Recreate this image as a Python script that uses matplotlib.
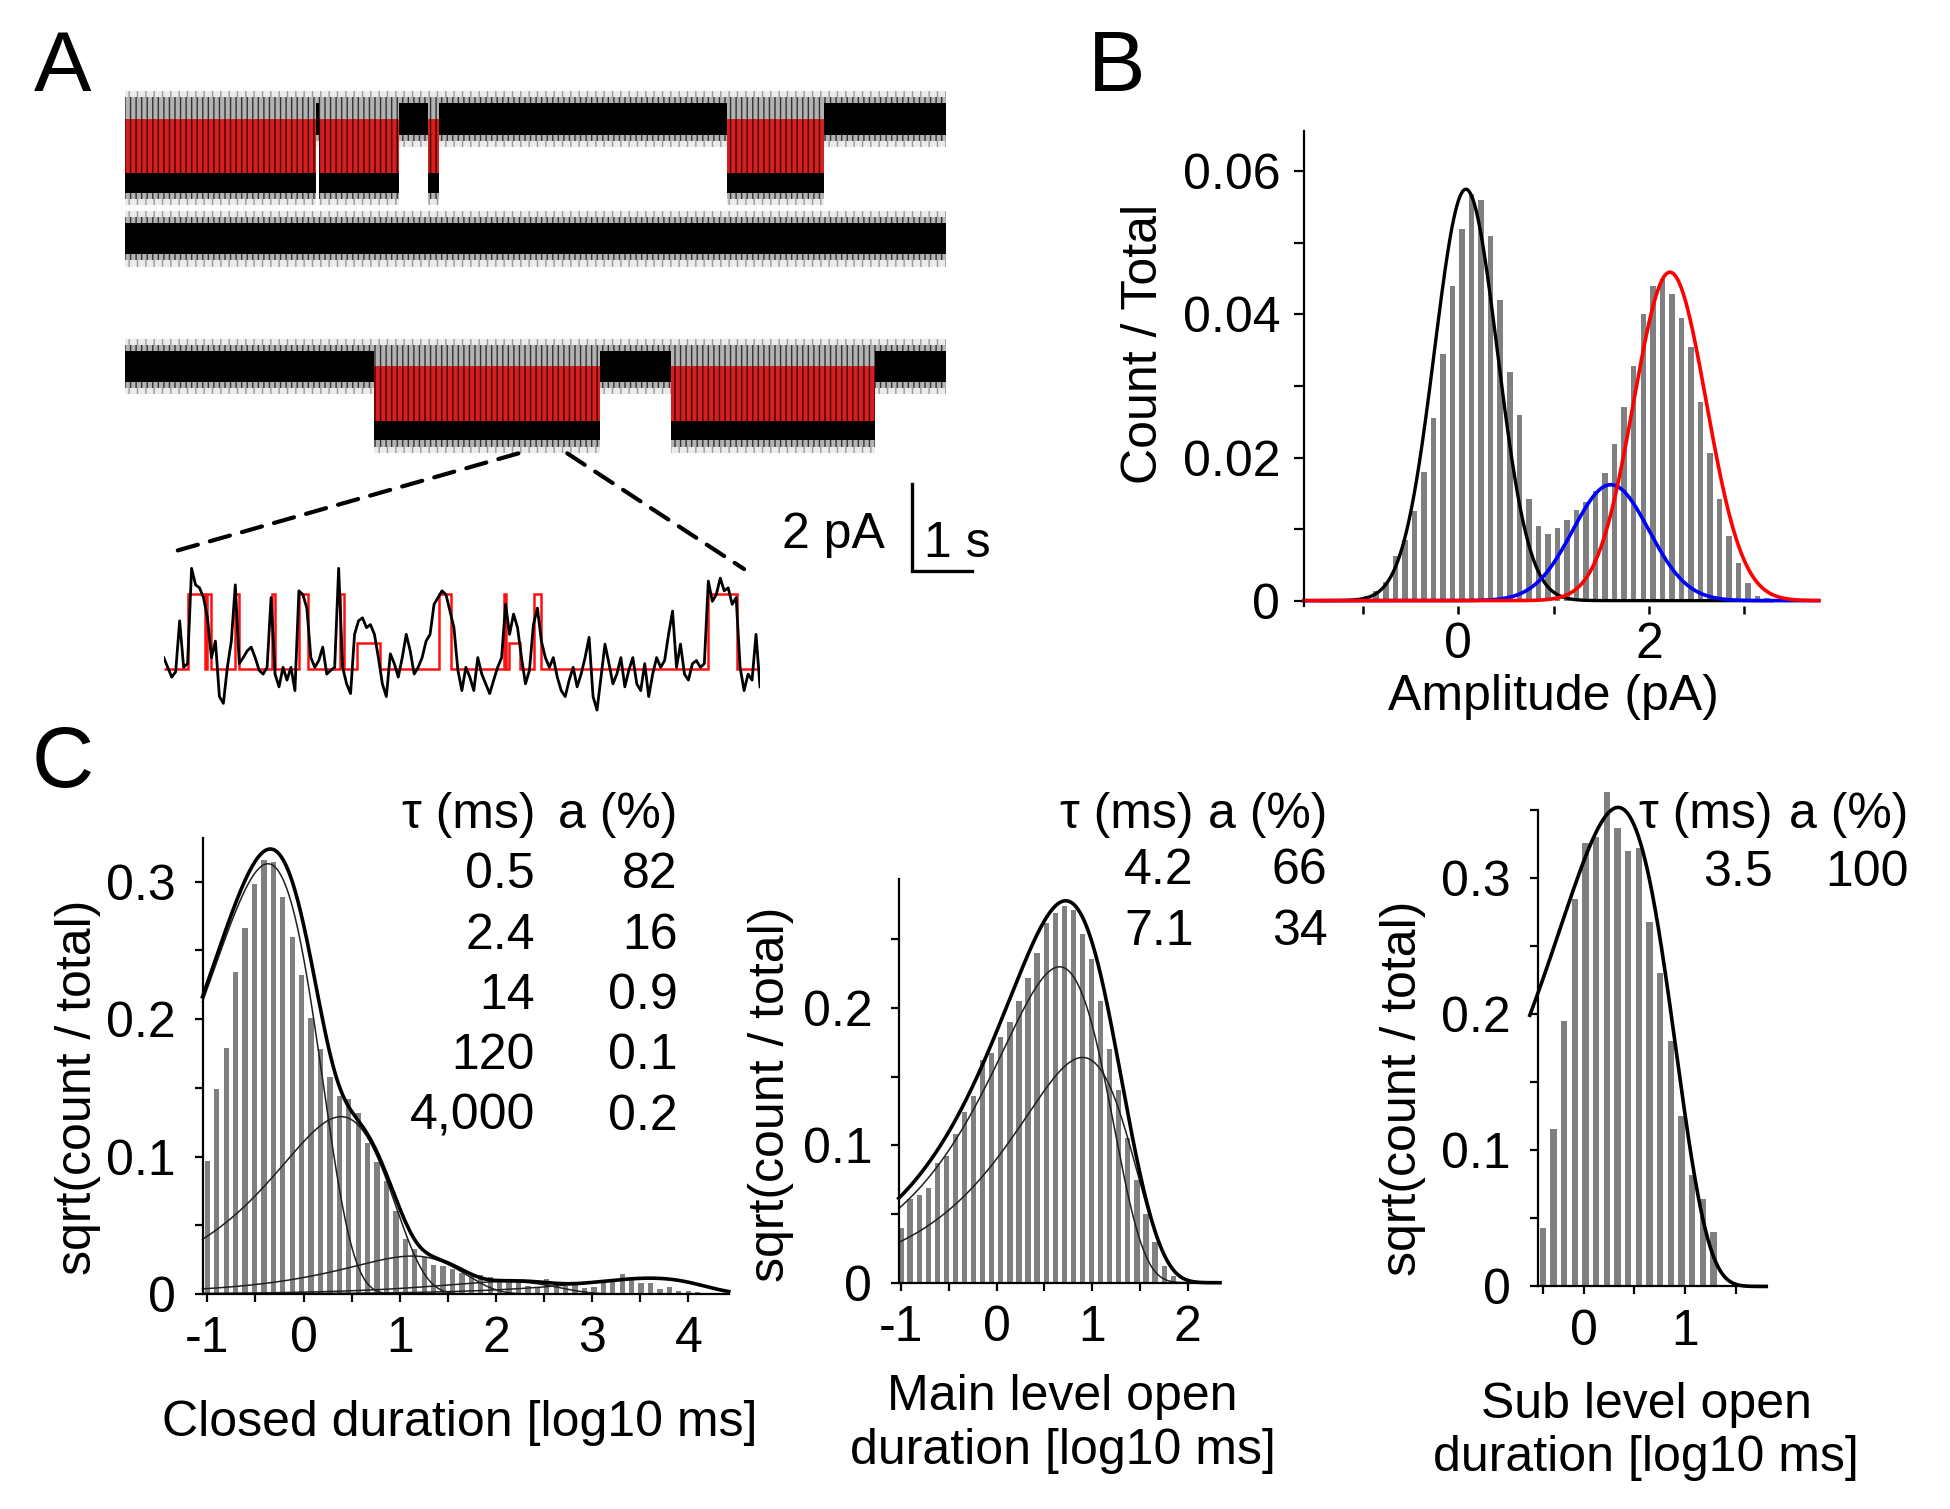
import numpy as np
import matplotlib.pyplot as plt
from matplotlib.patches import ConnectionPatch

plt.rcParams['font.family'] = ['Liberation Sans', 'DejaVu Sans']
plt.rcParams['axes.unicode_minus'] = False
plt.rcParams['hatch.linewidth'] = 1.0

# ---------------- A: idealised single-channel sweeps (start s, end s, state)
sweep1 = [(0.0, 3.20, 'open'), (3.20, 3.25, 'closed'), (3.25, 4.60, 'open'),
          (4.60, 5.08, 'closed'), (5.08, 5.27, 'open'), (5.27, 10.10, 'closed'),
          (10.10, 11.73, 'open'), (11.73, 13.77, 'closed')]
sweep2 = [(0.0, 13.77, 'closed')]
sweep3 = [(0.0, 4.17, 'closed'), (4.17, 7.97, 'open'), (7.97, 9.16, 'closed'),
          (9.16, 12.58, 'open'), (12.58, 13.77, 'closed')]
open_current = 1.25     # pA
scale_pA = 2
scale_s = 1
zoom_from_s = (6.60, 7.42)

# expanded stretch (ms), current as fraction of the full opening
inset_dt = 5
inset_trace = [0.15, 0.02, -0.11, -0.04, 0.64, 0.02, 0.07, 1.34, 1.12, 1.08,
               0.95, 0.68, 0.15, 0.37, -0.37, -0.46, 0.02, 0.37, 1.12, 0.07,
               0.15, 0.24, 0.29, 0.15, -0.02, -0.07, 0.02, 0.95, -0.07, -0.24,
               0.02, -0.15, 0.02, -0.29, 1.04, 0.99, 0.81, 0.15, 0.02, 0.11,
               0.29, -0.07, -0.02, 0.02, 1.34, 0.02, -0.20, -0.33, 0.46, 0.64,
               0.68, 0.55, 0.59, 0.46, 0.15, -0.20, -0.37, 0.20, 0.07, -0.11,
               0.15, 0.46, 0.24, -0.07, 0.02, 0.15, 0.37, 0.46, 0.86, 0.95,
               1.04, 0.99, 0.77, 0.55, -0.02, -0.29, 0.02, -0.11, -0.29, 0.15,
               -0.07, -0.20, -0.33, -0.15, 0.02, 0.15, 0.86, 0.46, 0.73, 0.55,
               0.15, -0.20, -0.02, 0.59, 0.81, 0.37, 0.15, 0.02, 0.15, -0.11,
               -0.29, -0.37, -0.15, 0.02, -0.24, -0.07, 0.15, 0.42, -0.37, -0.55,
               -0.11, 0.33, 0.07, -0.20, -0.07, 0.15, -0.24, -0.02, 0.15, -0.20,
               -0.29, 0.07, -0.37, -0.07, 0.15, 0.02, 0.11, 0.46, 0.77, 0.02,
               0.33, -0.07, -0.15, 0.07, 0.11, 0.02, 0.07, 1.17, 0.90, 0.99,
               1.21, 1.04, 1.08, 0.86, 0.95, 0.02, -0.29, -0.07, -0.15, 0.46,
               -0.24]
idl_edges = [0, 31, 51.5, 55, 60, 90, 95, 136.5, 140.5, 170, 181.5, 221.5, 226.5,
             243.5, 271.5, 346.5, 361, 427.5, 430, 434, 448.5, 466, 475, 685, 721.5, 750]
idl_levels = [0, 1, 0, 1, 0, 1, 0, 1, 0, 1, 0, 1, 0, 0.35, 0, 1, 0, 1, 0, 0.35,
              0, 1, 0, 1, 0]

# ---------------- B: amplitude histogram
amp_first_bin = -1.16
amp_bin = 0.1
amp_frac = [0.0001, 0.0003, 0.0006, 0.0013, 0.0026, 0.0062, 0.0085, 0.0125, 0.0180,
            0.0255, 0.0345, 0.0440, 0.0520, 0.0568, 0.0560, 0.0510, 0.0420, 0.0320,
            0.0260, 0.0142, 0.0105, 0.0093, 0.0101, 0.0113, 0.0126, 0.0138, 0.0153,
            0.0179, 0.0219, 0.0270, 0.0328, 0.0400, 0.0440, 0.0449, 0.0429, 0.0395,
            0.0355, 0.0278, 0.0207, 0.0142, 0.0090, 0.0052, 0.0025, 0.0007, 0.0004]
# fitted gaussians: mean, sd, height
gauss_closed = (0.08, 0.33, 0.0575)
gauss_sub = (1.60, 0.40, 0.0162)
gauss_main = (2.22, 0.38, 0.0459)

# ---------------- C: dwell-time histograms (log10 ms bins, sqrt scale)
closed_first_bin, closed_bin = -1.0, 0.098
closed_sqrt = [0.097, 0.149, 0.179, 0.234, 0.266, 0.298, 0.316, 0.314, 0.289, 0.260,
               0.232, 0.201, 0.178, 0.158, 0.144, 0.142, 0.132, 0.110, 0.096, 0.082,
               0.060, 0.040, 0.033, 0.027, 0.021, 0.020, 0.018, 0.015, 0.013, 0.014,
               0.012, 0.009, 0.009, 0.008, 0.006, 0.0044, 0.011, 0.0073, 0.0056, 0.0063,
               0.0044, 0.0049, 0.008, 0.0093, 0.0142, 0.0105, 0.008, 0.008, 0.0039,
               0.0049, 0.0024, 0.0020, 0.0015]
closed_comp = [(-0.37, 0.313), (0.39, 0.129), (1.13, 0.0276), (2.10, 0.009), (3.60, 0.0115)]
closed_tau = ['0.5', '2.4', '14', '120', '4,000']
closed_a = ['82', '16', '0.9', '0.1', '0.2']

main_first_bin, main_bin = -1.0, 0.095
main_sqrt = [0.040, 0.061, 0.064, 0.069, 0.087, 0.092, 0.108, 0.124, 0.136, 0.162,
             0.167, 0.179, 0.190, 0.205, 0.222, 0.240, 0.262, 0.269, 0.274, 0.271,
             0.254, 0.236, 0.205, 0.170, 0.140, 0.105, 0.075, 0.050, 0.030, 0.012, 0.005]
main_comp = [(0.66, 0.230), (0.90, 0.164)]
main_tau = ['4.2', '7.1']
main_a = ['66', '34']

sub_first_bin, sub_bin = -0.40, 0.105
sub_sqrt = [0.043, 0.116, 0.195, 0.285, 0.326, 0.330, 0.363, 0.337, 0.320, 0.322,
            0.268, 0.230, 0.180, 0.125, 0.082, 0.064, 0.040]
sub_comp = [(0.34, 0.352)]
sub_tau = ['3.5']
sub_a = ['100']

FS = 36
W, H = 1560.0, 1207.0   # reference layout units


def rect(x0, y0, x1, y1):
    return [x0 / W, 1 - y1 / H, (x1 - x0) / W, (y1 - y0) / H]


def fx(x):
    return x / W


def fy(y):
    return 1 - y / H


fig = plt.figure(figsize=(19.5, 15.09), dpi=100)

# ---------------- panel A
axA = fig.add_axes(rect(100, 60, 790, 470))
axA.set_xlim(0, 14.47)
axA.set_ylim(0, 11.8)
axA.axis('off')
sweep_levels = [10.79, 8.03, 5.09]


def noise_band(ax, tt, lo, hi):
    # layered vertical hatching gives the ragged noise envelope
    ax.fill_between(tt, lo - 0.14, hi + 0.14, facecolor='0.92', edgecolor='0.6',
                    hatch='||', lw=0)
    ax.fill_between(tt, lo, hi, facecolor='0.7', edgecolor='0.2',
                    hatch='|||', lw=0)


def draw_sweep(ax, segments, base):
    for t0, t1, state in segments:
        tt = [t0, t1]
        if state == 'closed':
            noise_band(ax, tt, base - 0.5, base + 0.5)
            ax.fill_between(tt, base - 0.36, base + 0.36, color='black', lw=0)
        else:
            lo = base - open_current
            noise_band(ax, tt, lo - 0.6, base + 0.5)
            ax.fill_between(tt, lo - 0.45, lo, color='black', lw=0)
            ax.fill_between(tt, lo, base, facecolor='#d81e1e',
                            edgecolor='#3a0000', hatch='|||', lw=0)


for seg, lev in zip([sweep1, sweep2, sweep3], sweep_levels):
    draw_sweep(axA, seg, lev)

# scale bar
sb_x, sb_y = 13.21, 0.374
axA.plot([sb_x, sb_x, sb_x + scale_s], [sb_y + scale_pA, sb_y, sb_y],
         color='black', lw=2.4, solid_joinstyle='miter')
axA.text(sb_x - 0.46, sb_y + 0.84, f'{scale_pA} pA', ha='right', va='center', fontsize=FS)
axA.text(sb_x + 0.19, sb_y + 0.63, f'{scale_s} s', ha='left', va='center', fontsize=FS)

# expanded stretch
axIn = fig.add_axes(rect(131, 436, 608, 575))
axIn.set_xlim(0, 750)
axIn.set_ylim(-0.667, 1.65)
axIn.axis('off')
t_in = np.arange(len(inset_trace)) * inset_dt
axIn.plot(t_in, inset_trace, color='black', lw=2.0)
axIn.stairs(idl_levels, idl_edges, baseline=None, color='#ff1010', lw=1.8)

y_from = sweep_levels[2] - open_current - 0.75
for xs, xyB in zip(zoom_from_s, [(8, 1.55), (730, 1.33)]):
    con = ConnectionPatch(xyA=(xs, y_from), coordsA=axA.transData,
                          xyB=xyB, coordsB=axIn.transData,
                          color='black', lw=3, ls=(0, (5, 3)))
    fig.add_artist(con)

# ---------------- panel B
axB = fig.add_axes(rect(1043, 105, 1455, 485))
axB.set_xlim(-1.62, 3.78)
axB.set_ylim(-0.0008, 0.0656)
centers = amp_first_bin + amp_bin * np.arange(len(amp_frac))
axB.bar(centers, amp_frac, width=0.058, color='#808080', lw=0)
xg = np.linspace(-1.62, 3.78, 800)


def gauss(x, p):
    m, s, h = p
    return h * np.exp(-(x - m) ** 2 / (2 * s * s))


sel = (xg > -1.45) & (xg < 3.3)
axB.plot(xg[sel], gauss(xg[sel], gauss_closed), color='black', lw=2.4, clip_on=False)
axB.plot(xg, gauss(xg, gauss_sub), color='#0000ff', lw=2.6, clip_on=False)
axB.plot(xg, gauss(xg, gauss_main), color='#ff0000', lw=2.6, clip_on=False)
for s in ['top', 'right', 'bottom']:
    axB.spines[s].set_visible(False)
axB.spines['left'].set_linewidth(1.6)
axB.set_yticks(np.arange(0, 0.0601, 0.01))
axB.set_yticklabels(['0', '', '0.02', '', '0.04', '', '0.06'])
axB.set_xticks([-1, 0, 1, 2, 3])
axB.set_xticklabels(['', '0', '', '2', ''])
axB.tick_params(axis='y', direction='out', length=7, width=1.6, pad=10, labelsize=FS)
axB.tick_params(axis='x', direction='out', length=6, width=1.8, pad=5, labelsize=FS)
axB.set_ylabel('Count / Total', fontsize=FS, va='center')
axB.yaxis.set_label_coords(-0.311, 0.553)
axB.set_xlabel('Amplitude (pA)', fontsize=FS, va='center')
axB.xaxis.set_label_coords(0.485, -0.19)


# ---------------- panel C
def dwell_component(x, peak_x, peak_h):
    u = 10.0 ** (x - peak_x)
    return peak_h * np.sqrt(u * np.exp(1 - u))


def dwell_panel(box, xlim, ylim, first_bin, bin_w, values, comps, bar_w,
                xticks, xlabels, ylab_xy, xlabel, xlab_xy, thin=True, curve_x0=None):
    ax = fig.add_axes(rect(*box))
    ax.set_xlim(*xlim)
    ax.set_ylim(*ylim)
    c = first_bin + bin_w * np.arange(len(values))
    ax.bar(c, values, width=bar_w, color='#808080', lw=0, clip_on=False)
    x0 = xlim[0] if curve_x0 is None else curve_x0
    xs = np.linspace(x0, xlim[1], 800)
    parts = [dwell_component(xs, px, ph) for px, ph in comps]
    if thin:
        for p in parts:
            ax.plot(xs, p, color='#202020', lw=1.1, clip_on=False)
    ax.plot(xs, np.sqrt(np.sum(np.array(parts) ** 2, axis=0)), color='black',
            lw=2.6, clip_on=False)
    for s in ['top', 'right']:
        ax.spines[s].set_visible(False)
    for s in ['left', 'bottom']:
        ax.spines[s].set_linewidth(1.6)
    ax.set_xticks(xticks)
    ax.set_xticklabels(xlabels)
    yt = np.arange(0, ylim[1] + 1e-9, 0.05)
    ax.set_yticks(yt)
    ax.set_yticklabels(['0' if v < 1e-9 else (f'{v:.1f}' if abs(v * 10 - round(v * 10)) < 1e-6 else '')
                        for v in yt])
    ax.tick_params(direction='out', length=6, width=1.6, labelsize=FS)
    ax.tick_params(axis='y', pad=13)
    ax.tick_params(axis='x', pad=10)
    ax.set_ylabel('sqrt(count / total)', fontsize=FS, va='center')
    ax.yaxis.set_label_coords(*ylab_xy)
    ax.set_xlabel(xlabel, fontsize=FS, va='center', ha='center', multialignment='center')
    ax.xaxis.set_label_coords(*xlab_xy)
    return ax


def table(x_tau, x_a, y0, taus, areas, dy=48.3, y_head=652):
    fig.text(fx(x_tau), fy(y_head), 'τ (ms)', ha='right', va='center', fontsize=FS)
    fig.text(fx(x_a), fy(y_head), 'a (%)', ha='right', va='center', fontsize=FS)
    for i, (t, a) in enumerate(zip(taus, areas)):
        fig.text(fx(x_tau), fy(y0 + dy * i), t, ha='right', va='center', fontsize=FS)
        fig.text(fx(x_a), fy(y0 + dy * i), a, ha='right', va='center', fontsize=FS)


dwell_panel((162, 670, 583, 1035), (-1.05, 4.42), (0, 0.332), closed_first_bin, closed_bin,
            closed_sqrt, closed_comp, 0.055, np.arange(-1, 4.01, 0.5),
            ['-1', '', '0', '', '1', '', '2', '', '3', '', '4'], (-0.2375, 0.452),
            'Closed duration [log10 ms]', (0.489, -0.282))
table(428, 542, 700, closed_tau, closed_a)

dwell_panel((719, 703, 976, 1026), (-1.024, 2.34), (0, 0.294), main_first_bin, main_bin,
            main_sqrt, main_comp, 0.055, np.arange(-1, 2.01, 0.5),
            ['-1', '', '0', '', '1', '', '2'], (-0.397, 0.467),
            'Main level open\nduration [log10 ms]', (0.51, -0.35))
table(955, 1062, 697, main_tau, main_a)

dwell_panel((1230, 648, 1413, 1029), (-0.454, 1.80), (0, 0.35), sub_first_bin, sub_bin,
            sub_sqrt, sub_comp, 0.062, [-0.4, 0, 0.5, 1, 1.5],
            ['', '0', '', '1', ''], (-0.59, 0.417),
            'Sub level open\nduration [log10 ms]', (0.475, -0.304), thin=False, curve_x0=-0.53)
table(1418, 1527, 698, sub_tau, sub_a)

# panel letters
for lab, (x, y) in zip('ABC', [(50, 55), (893, 55), (50, 612)]):
    fig.text(fx(x), fy(y), lab, ha='center', va='center', fontsize=62)

fig.savefig('out.png', dpi=100)
